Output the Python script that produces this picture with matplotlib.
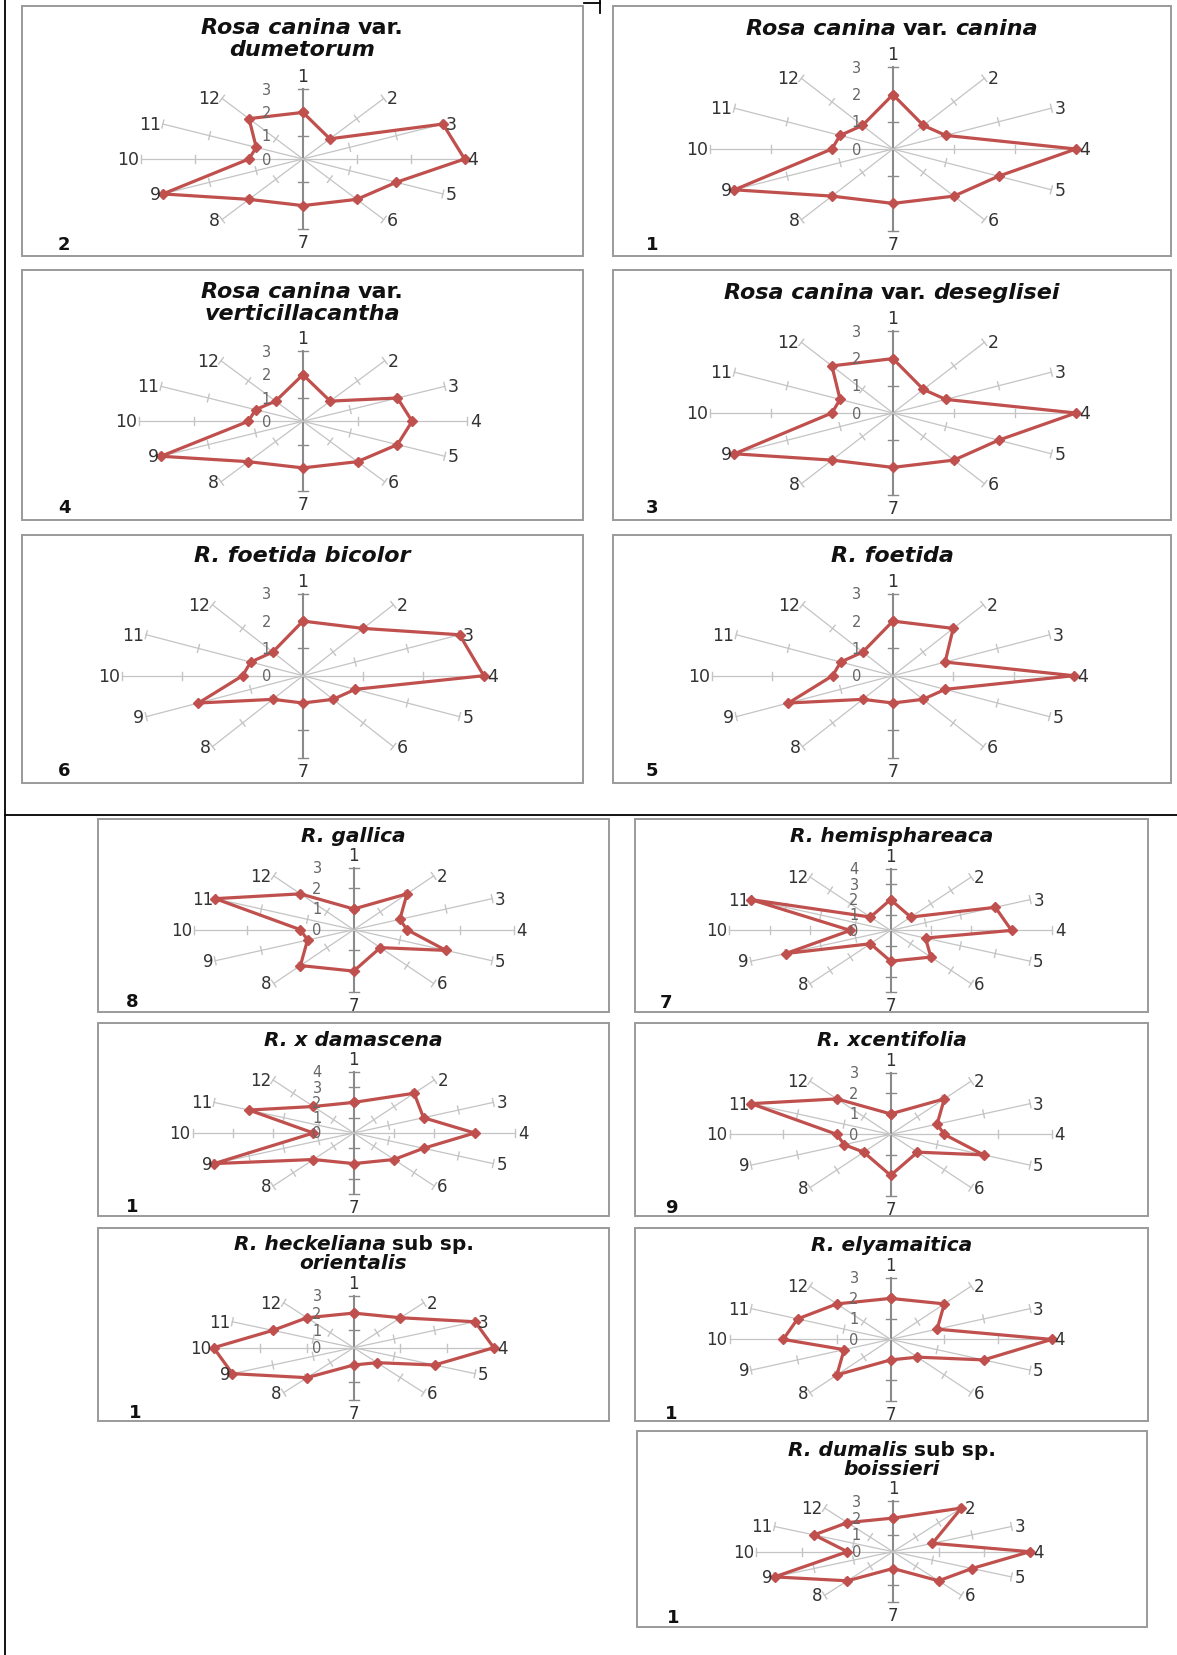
import matplotlib
matplotlib.use('Agg')
import matplotlib.pyplot as plt
import numpy as np
from matplotlib.patches import Rectangle

# ---------------- data (scores for characters 1..12) ----------------
characters = [str(i) for i in range(1, 13)]
dumetorum        = [2, 1, 3, 3, 2, 2, 2, 2, 3, 1, 1, 2]
canina           = [2, 1, 1, 3, 2, 2, 2, 2, 3, 1, 1, 1]
verticillacantha = [2, 1, 2, 2, 2, 2, 2, 2, 3, 1, 1, 1]
deseglisei       = [2, 1, 1, 3, 2, 2, 2, 2, 3, 1, 1, 2]
foetida_bicolor  = [2, 2, 3, 3, 1, 1, 1, 1, 2, 1, 1, 1]
foetida          = [2, 2, 1, 3, 1, 1, 1, 1, 2, 1, 1, 1]
gallica          = [1, 2, 1, 1, 2, 1, 2, 2, 1, 1, 3, 2]
hemisphareaca    = [2, 1, 3, 3, 1, 2, 2, 1, 3, 1, 4, 1]
damascena        = [2, 3, 2, 3, 2, 2, 2, 2, 4, 1, 3, 2]
xcentifolia      = [1, 2, 1, 1, 2, 1, 2, 1, 1, 1, 3, 2]
heckeliana       = [2, 2, 3, 3, 2, 1, 1, 2, 3, 3, 2, 2]
elyamaitica      = [2, 2, 1, 3, 2, 1, 1, 2, 1, 2, 2, 2]
dumalis          = [2, 3, 1, 3, 2, 2, 1, 2, 3, 1, 2, 2]

W, H, DPI = 1177, 1656, 100
RED = '#c0504d'

fig = plt.figure(figsize=(W / DPI, H / DPI), dpi=DPI)
fig.patch.set_facecolor('white')

# background axes in pixel coordinates (y downwards)
bg = fig.add_axes([0, 0, 1, 1])
bg.set_xlim(0, W)
bg.set_ylim(H, 0)
bg.axis('off')

renderer = fig.canvas.get_renderer()


def title_line(cx, cy, parts, size):
    texts = []
    for s, it in parts:
        t = bg.text(0, cy, s, fontsize=size, fontweight='bold',
                    fontstyle='italic' if it else 'normal',
                    ha='left', va='center', color='#111111', zorder=5)
        texts.append(t)
    widths = [t.get_window_extent(renderer).width for t in texts]
    space = 0.30 * size * DPI / 72
    total = sum(widths) + space * (len(texts) - 1)
    x = cx - total / 2
    for t, w in zip(texts, widths):
        t.set_x(x)
        x += w + space


def radar(cx, cy, hs, vs, R, vals, lab_size):
    ax = fig.add_axes([(cx - R * hs) / W, 1 - (cy + R * vs) / H,
                       2 * R * hs / W, 2 * R * vs / H])
    ax.set_xlim(-R, R)
    ax.set_ylim(-R, R)
    ax.axis('off')
    n = len(characters)
    th = np.arange(n) * 2 * np.pi / n
    s, c = np.sin(th), np.cos(th)
    for k in range(n):
        main = k in (0, 6)
        col = '#8a8a8a' if main else '#c4c4c4'
        ax.plot([0, R * s[k]], [0, R * c[k]], color=col,
                lw=1.5 if main else 0.9, zorder=1, clip_on=False)
        d = np.array([s[k] * hs, c[k] * vs])
        d /= np.hypot(*d)
        p = np.array([-d[1], d[0]])
        L = 5 if main else 4
        for v in range(1, R + 1):
            x0, y0 = v * s[k], v * c[k]
            ax.plot([x0 - p[0] * L / hs, x0 + p[0] * L / hs],
                    [y0 - p[1] * L / vs, y0 + p[1] * L / vs],
                    color=col, lw=1.0, zorder=1, clip_on=False)
        # category label
        if k == 0:
            off, ha, va = (0, 4), 'center', 'bottom'
        elif k == 6:
            off, ha, va = (0, -4), 'center', 'top'
        elif s[k] > 0:
            off, ha, va = (3, 0), 'left', 'center'
        else:
            off, ha, va = (-2, 0), 'right', 'center'
        ax.annotate(characters[k], (R * s[k], R * c[k]), xytext=off,
                    textcoords='offset pixels', ha=ha, va=va,
                    fontsize=lab_size, color='#333333', zorder=4,
                    annotation_clip=False)
    for v in range(R + 1):
        ax.annotate(str(v), (0, v), xytext=(-32, 0), textcoords='offset pixels',
                    ha='right', va='center', fontsize=10.5, color='#666666',
                    zorder=4, annotation_clip=False)
    v = np.array(vals, dtype=float)
    xs = np.append(v * s, v[0] * s[0])
    ys = np.append(v * c, v[0] * c[0])
    ax.plot(xs, ys, color=RED, lw=2.3, marker='D', ms=5.5, zorder=3,
            clip_on=False)


I, N = True, False
UP, LO = 16, 14.5
charts = [
    # vals, box, center, hs, vs, R, title lines, title ys, title size, id, id pos
    (dumetorum, (22, 7, 583, 257), (302.9, 160), 53.9, 23.3, 3,
     [[("Rosa canina", I), ("var.", N)], [("dumetorum", I)]], [28.5, 50], UP, "2", (64, 245)),
    (canina, (613, 7, 1171, 257), (892.9, 150), 61, 27.2, 3,
     [[("Rosa canina", I), ("var.", N), ("canina", I)]], [29], UP, "1", (652, 245)),
    (verticillacantha, (22, 271, 583, 521), (302.9, 422.3), 54.6, 23.3, 3,
     [[("Rosa canina", I), ("var.", N)], [("verticillacantha", I)]], [292.5, 314], UP, "4", (64, 508)),
    (deseglisei, (613, 271, 1171, 521), (892.9, 414), 61, 27.2, 3,
     [[("Rosa canina", I), ("var.", N), ("deseglisei", I)]], [293], UP, "3", (652, 508)),
    (foetida_bicolor, (22, 536, 583, 784), (302.9, 676.7), 60.3, 27.3, 3,
     [[("R. foetida bicolor", I)]], [555.7], UP, "6", (64, 771)),
    (foetida, (613, 536, 1171, 784), (892.9, 676.7), 60.3, 27.3, 3,
     [[("R. foetida", I)]], [555.7], UP, "5", (652, 771)),
    (gallica, (98, 820, 609, 1013), (353.7, 930.7), 53.3, 20.7, 3,
     [[("R. gallica", I)]], [836.3], LO, "8", (132, 1002)),
    (hemisphareaca, (635, 820, 1148, 1013), (890.6, 931.4), 40.3, 15.4, 4,
     [[("R. hemisphareaca", I)]], [836.3], LO, "7", (666, 1003)),
    (damascena, (98, 1024, 609, 1217), (353.7, 1134), 40.3, 15.3, 4,
     [[("R. x damascena", I)]], [1040.3], LO, "1", (132, 1207)),
    (xcentifolia, (635, 1024, 1148, 1217), (890.6, 1135.4), 53.7, 20.5, 3,
     [[("R. xcentifolia", I)]], [1040.3], LO, "9", (671, 1208)),
    (heckeliana, (98, 1229, 609, 1422), (353.7, 1348.7), 46.7, 17.3, 3,
     [[("R. heckeliana", I), ("sub sp.", N)], [("orientalis", I)]], [1244.5, 1264], LO, "1", (135, 1413)),
    (elyamaitica, (635, 1229, 1148, 1422), (890.6, 1340.4), 53.7, 20.5, 3,
     [[("R. elyamaitica", I)]], [1245.4], LO, "1", (671, 1414)),
    (dumalis, (637, 1432, 1147, 1628), (893, 1552.7), 45.6, 16.8, 3,
     [[("R. dumalis", I), ("sub sp.", N)], [("boissieri", I)]], [1450.5, 1470], LO, "1", (673, 1618)),
]

for vals, box, cen, hs, vs, R, tlines, tys, tsize, pid, ppos in charts:
    x0, y0, x1, y1 = box
    bg.add_patch(Rectangle((x0, y0), x1 - x0, y1 - y0, fill=False,
                           edgecolor='#9a9a9a', lw=1.4, zorder=2))
    for parts, ty in zip(tlines, tys):
        title_line((x0 + x1) / 2, ty, parts, tsize)
    bg.text(ppos[0], ppos[1], pid, fontsize=13, fontweight='bold',
            ha='center', va='center', color='#111111')
    radar(cen[0], cen[1], hs, vs, R, vals, 12.5 if tsize == UP else 12)

# black frame lines of the layout table
bg.plot([5, 5], [0, H], color='black', lw=1.3)
bg.plot([5, W], [816, 816], color='black', lw=1.3)
bg.plot([584, 600], [4, 4], color='black', lw=1.3)
bg.plot([600, 600], [0, 14], color='black', lw=1.3)

fig.savefig('out.png', dpi=DPI, facecolor='white')
